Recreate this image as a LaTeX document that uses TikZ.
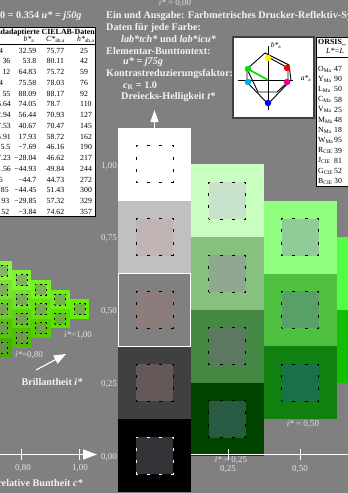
\documentclass[tikz,border=0pt]{standalone}
\usepackage{fontspec}
\setmainfont{Liberation Serif}
\usetikzlibrary{arrows.meta}
\definecolor{bg}{RGB}{128,128,128}
\definecolor{labc}{RGB}{228,228,228}
\definecolor{txtc}{RGB}{242,242,242}
\definecolor{limeF}{RGB}{96,240,0}
\definecolor{aO}{HTML}{FFFFFF}\definecolor{aI}{HTML}{FFFFFF}
\definecolor{bO}{HTML}{C0C0C0}\definecolor{bI}{HTML}{C0B4B4}
\definecolor{cO}{HTML}{808080}\definecolor{cI}{HTML}{8C7C7C}
\definecolor{dO}{HTML}{404040}\definecolor{dI}{HTML}{645858}
\definecolor{eO}{HTML}{000000}\definecolor{eI}{HTML}{333338}
\definecolor{fO}{HTML}{C8FFC0}\definecolor{fI}{HTML}{C8E2CC}
\definecolor{gO}{HTML}{88C080}\definecolor{gI}{HTML}{90A890}
\definecolor{hO}{HTML}{448844}\definecolor{hI}{HTML}{5C7860}
\definecolor{iO}{HTML}{004400}\definecolor{iI}{HTML}{285A44}
\definecolor{jO}{HTML}{90FF80}\definecolor{jI}{HTML}{90CC98}
\definecolor{kO}{HTML}{50C040}\definecolor{kI}{HTML}{58A068}
\definecolor{lO}{HTML}{108010}\definecolor{lI}{HTML}{1A7048}
\definecolor{mO}{HTML}{50FF40}
\definecolor{nO}{HTML}{10C000}
\begin{document}
\begin{tikzpicture}[x=1pt,y=-1pt,
  lbl/.style={text=labc, font=\fontsize{9}{9}\selectfont, inner sep=0pt},
  btxt/.style={text=txtc, font=\fontsize{10.2}{11}\selectfont\bfseries, inner sep=0pt, anchor=west},
  tb/.style={font=\fontsize{7.8}{8}\selectfont, inner sep=0pt},
  box/.style={minimum width=72.8pt, minimum height=72.8pt, inner sep=0pt, outer sep=0pt},
  insq/.style={minimum width=37pt, minimum height=37pt, inner sep=0pt, outer sep=0pt, line width=0.9pt, dash pattern=on 3pt off 9.33pt, dash phase=1.5pt},
  tcell/.style={minimum width=19.45pt, minimum height=19.45pt, inner sep=0pt, outer sep=0pt},
  tin/.style={minimum width=11pt, minimum height=11pt, inner sep=0pt, outer sep=0pt, draw=black, line width=0.7pt, dash pattern=on 2pt off 3.5pt, dash phase=1pt},
  dot/.style={circle, inner sep=0pt, minimum size=6.5pt},
  axis/.style={draw=white, line width=1.3pt},
  tick/.style={draw=white, line width=1pt}
]
\useasboundingbox (0,0) rectangle (348,493);
\clip (0,0) rectangle (348,493);
\fill[bg] (0,0) rectangle (348,493);

% ---------- main grid ----------
\foreach \nm/\x/\y/\co/\ci/\dc in {
  a/154.5/164.3/aO/aI/black, b/154.5/237.1/bO/bI/black, c/154.5/309.9/cO/cI/black,
  d/154.5/382.7/dO/dI/black, e/154.5/455.5/eO/eI/white,
  f/227.3/200.7/fO/fI/black, g/227.3/273.5/gO/gI/black, h/227.3/346.3/hO/hI/black, i/227.3/419.1/iO/iI/black,
  j/300.1/237.1/jO/jI/black, k/300.1/309.9/kO/kI/black, l/300.1/382.7/lO/lI/black}{
  \node[box, fill=\co] (B\nm) at (\x,\y) {};
  \node[insq, fill=\ci, draw=\dc] (I\nm) at (\x,\y) {};
}
\node[box, fill=mO] (Bm) at (372.9,273.5) {};
\node[box, fill=nO] (Bn) at (372.9,346.3) {};
\draw[white, line width=1pt] (Bc.north west) rectangle (Bc.south east);

% ---------- triangle (left) ----------
\foreach \k in {0,...,4}{
  \foreach \j in {0,...,\k}{
    \pgfmathsetmacro\xx{79.5-19.3*\k}
    \pgfmathsetmacro\yy{309-9.65*\k+19.3*\j}
    \pgfmathsetmacro\pa{100*(15-\k)/(15-\j)}
    \pgfmathsetmacro\pb{100*(15-\j)/15}
    \node[tcell, fill={limeF!\pa!white!\pb!black}] (T\k\j) at (\xx,\yy) {};
    \node[tin, fill={limeF!\pa!white!\pb!black!45!gray}] (TI\k\j) at (\xx,\yy) {};
  }
}
\node[lbl] (i100) at (78,335) {\textit{i*}=1,00};
\node[lbl] (i080) at (29,355) {\textit{i*}=0,80};
\coordinate (brA) at (36,370);
\coordinate (brB) at (66,354);
\draw[white, line width=1.1pt, -{Triangle[length=12pt,width=9pt]}] (brA) -- (brB);
\node[btxt, anchor=center] (bril) at (52,382) {Brillantheit \textit{i*}};

% ---------- axes ----------
\coordinate (axL0) at (0,454.5);
\coordinate (axL1) at (97,454.5);
\draw[axis, -{Triangle[length=14pt,width=10pt]}] (axL0) -- (axL1);
\coordinate (axR0) at (191,454.5);
\coordinate (axR1) at (348,454.5);
\draw[axis] (axR0) -- (axR1);
\foreach \tx/\ta/\tb in {21.7/448.5/459.5, 79.3/448.5/459.5, 228/449/459.5, 300/448.5/459.5}{
  \draw[tick] (\tx,\ta) -- (\tx,\tb);
}
\node[lbl] (x080) at (23,468) {0,80};
\node[lbl] (x100) at (80,468) {1,00};
\node[lbl] (x025) at (228,469) {0,25};
\node[lbl] (x050) at (300,469) {0,50};
\node[lbl] (ii025) at (231,460) {\textit{i*} = 0,25};
\node[lbl] (ii050) at (303,424) {\textit{i*} = 0,50};
\node[lbl] (ii000) at (175,3.5) {\textit{i*} = 0,00};
\node[btxt, anchor=east] (relb) at (83,483) {relative Buntheit \textit{c*}};
\node[lbl, anchor=east] (y100) at (117,166) {1,00};
\node[lbl, anchor=east] (y075) at (117,238.5) {0,75};
\node[lbl, anchor=east] (y050) at (117,311) {0,50};
\node[lbl, anchor=east] (y025) at (117,384) {0,25};
\node[lbl, anchor=east] (y000) at (117,457) {0,00};

% ---------- up arrow ----------
\coordinate (upA) at (154.5,128);
\coordinate (upB) at (154.5,110);
\draw[white, line width=1.2pt, -{Triangle[length=12pt,width=8pt]}] (upA) -- (upB);

% ---------- texts ----------
\node[btxt] (t0) at (0,16.5) {0 = 0.354 \textit{u*} = \textit{j50g}};
\node[btxt] (l1) at (106,16.5) {Ein und Ausgabe: Farbmetrisches Drucker-Reflektiv-System};
\node[btxt] (l2) at (106,28) {Daten für jede Farbe:};
\node[btxt] (l3) at (121,39.5) {\textit{lab*tch*} und \textit{lab*icu*}};
\node[btxt] (l4) at (106,51) {Elementar-Bunttontext:};
\node[btxt] (l5) at (123,62.5) {\textit{u* = j75g}};
\node[btxt] (l6) at (106,74) {Kontrastreduzierungsfaktor:};
\node[btxt] (l7) at (123,85.5) {\textit{c}\textsubscript{R} = 1.0};
\node[btxt] (l8) at (121,97) {Dreiecks-Helligkeit \textit{t*}};

% ---------- left table ----------
\node[draw=black, line width=0.9pt, fill=white, inner sep=0pt, outer sep=0pt,
      minimum width=98pt, minimum height=189pt] (ltab) at (46.75,121.5) {};
\node[tb, font=\fontsize{7.9}{8}\selectfont\bfseries, anchor=east] (lh1) at (95,32.5) {ndadaptierte CIELAB-Daten};
\node[tb] (lh2) at (29,39.5) {\textit{b*}\textsubscript{a}};
\node[tb, anchor=west] (lh3) at (46,39.5) {\textit{C*}\textsubscript{ab,a}};
\node[tb, anchor=west] (lh4) at (77,39.5) {\textit{h*}\textsubscript{ab,a}};
\draw[line width=0.6pt] (ltab.west |- 0,44.5) -- (ltab.east |- 0,44.5);
\foreach \i/\ex/\a/\b/\c/\d in {
  0/3.3/4/32.59/75.77/25, 1/10.5/36/53.8/80.11/42, 2/10.5/12/64.83/75.72/59,
  3/3.3/4/75.58/78.03/76, 4/10.5/55/88.09/88.17/92, 5/11/6.64/74.05/78.7/110,
  6/11/2.94/56.44/70.93/127, 7/11/7.53/40.67/70.47/145, 8/11/5.91/17.93/58.72/162,
  9/10.5/5.5/−7.69/46.16/190, 10/11/7.23/−28.04/46.62/217, 11/11/1.56/−44.93/49.84/244,
  12/3/6/−44.7/44.73/272, 13/9/85/−44.45/51.43/300, 14/9.5/93/−29.85/57.32/329,
  15/9.5/52/−3.84/74.62/357}{
  \pgfmathsetmacro\ry{50.5+10.75*\i}
  \node[tb, anchor=east] (lc1r\i) at (\ex,\ry) {\a};
  \node[tb, anchor=east] (lc2r\i) at (36.5,\ry) {\b};
  \node[tb, anchor=west] (lc3r\i) at (46.5,\ry) {\c};
  \node[tb, anchor=west] (lc4r\i) at (80,\ry) {\d};
}

% ---------- hue diagram ----------
\node[draw=black!75, line width=1.5pt, fill=white, inner sep=0pt, outer sep=0pt,
      minimum width=81pt, minimum height=81pt] (hue) at (273.5,77.5) {};
\draw[line width=0.9pt] (238,80) -- (293,80);
\draw[line width=0.9pt] (268,46) -- (268,110);
\draw[line width=0.9pt] (265,53) -- (289,65) -- (291,80) -- (268,104) -- (247,82) -- (247,69) -- cycle;
\draw[line width=0.9pt] (268,57) -- (288,68) -- (288,82) -- (277,92) -- (258,92) -- (247,69);
\draw[green!85!black, line width=1.6pt] (248,69) -- (268,80);
\node[dot, fill=yellow] (dY) at (268,58) {};
\node[dot, fill=red] (dR) at (287,68) {};
\node[dot, fill=magenta] (dM) at (287,82) {};
\node[dot, fill=blue] (dB) at (268,103) {};
\node[dot, fill=cyan] (dC) at (248,82) {};
\node[dot, fill={rgb,255:red,0;green,230;blue,0}] (dG) at (248,69) {};
\node[tb, font=\fontsize{7.5}{8}\selectfont] (lb) at (276,45) {\textit{b*}\textsubscript{a}};
\node[tb, font=\fontsize{7.5}{8}\selectfont] (la) at (306,79) {\textit{a*}\textsubscript{a}};

% ---------- right table ----------
\node[draw=black, line width=0.9pt, fill=white, inner sep=0pt, outer sep=0pt,
      minimum width=50pt, minimum height=149pt] (rtab) at (341,111.5) {};
\node[tb, font=\fontsize{7.9}{8}\selectfont\bfseries, anchor=west] (rh1) at (318,42) {ORSIS\_};
\node[tb, anchor=west] (rh2) at (326,51) {\textit{L*=L}};
\draw[line width=0.6pt] (rtab.west |- 0,57) -- (348,57);
\foreach \i/\n/\s/\v in {0/O/Ma/47, 1/Y/Ma/90, 2/L/Ma/50, 3/C/Ma/58, 4/V/Ma/25, 5/M/Ma/48,
  6/N/Ma/18, 7/W/Ma/95, 8/R/CIE/39, 9/J/CIE/81, 10/G/CIE/52, 11/B/CIE/30}{
  \pgfmathsetmacro\ry{69+10.2*\i}
  \node[tb, anchor=west] (rn\i) at (318,\ry) {\n\textsubscript{\s}};
  \node[tb, anchor=west] (rv\i) at (334,\ry) {\v};
}
\end{tikzpicture}
\end{document}
